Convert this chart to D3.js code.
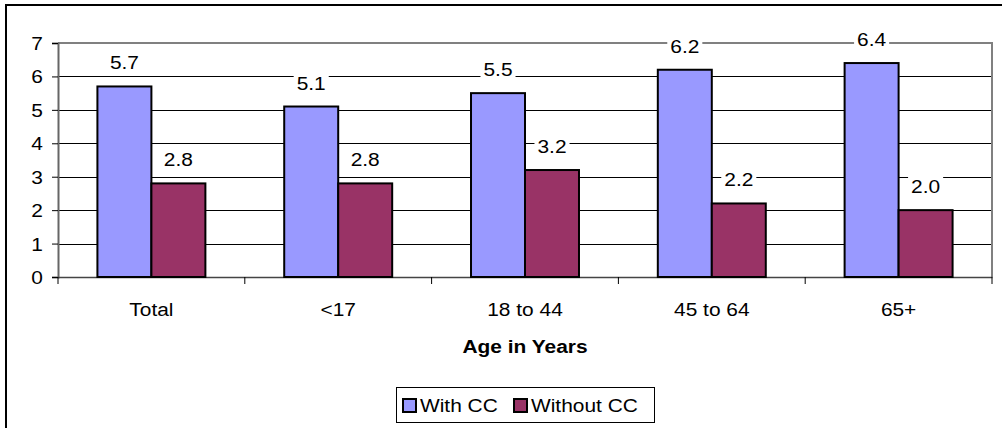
<!DOCTYPE html>
<html>
<head>
<meta charset="utf-8">
<script src="https://cdn.jsdelivr.net/npm/d3@7"></script>
<style>
    body { margin: 0; background: #fff; }
</style>
</head>
<body>
<div id="chart"></div>
<script>
// data
let categories = ["Total", "<17", "18 to 44", "45 to 64", "65+"];
let seriesNames = ["With CC", "Without CC"];
let withCC = [5.7, 5.1, 5.5, 6.2, 6.4];
let withoutCC = [2.8, 2.8, 3.2, 2.2, 2.0];
let yTicks = [0, 1, 2, 3, 4, 5, 6, 7];
let xTitle = "Age in Years";

let colors = ["#9999ff", "#993366"];

let svgWidth = 1002;
let svgHeight = 428;
let plot = { left: 58, right: 992, top: 43, bottom: 277 };
let fontSize = 19;
let stretch = 1.1; // text in the picture is a little wider than it is tall

let svg = d3.select("#chart")
    .append("svg")
    .attr("width", svgWidth)
    .attr("height", svgHeight);

// outer frame (runs off the right and bottom)
svg.append("rect")
    .attr("x", 6)
    .attr("y", 5)
    .attr("width", 1010)
    .attr("height", 440)
    .attr("fill", "none")
    .attr("stroke", "#000")
    .attr("stroke-width", 2);

let xScale = d3.scaleBand()
    .domain(categories)
    .range([plot.left, plot.right]);

let xInner = d3.scaleBand()
    .domain(seriesNames)
    .range([0, xScale.bandwidth()])
    .paddingOuter(0.73);

let yScale = d3.scaleLinear()
    .domain([0, 7])
    .range([plot.bottom, plot.top]);

function addText(g, str, x, y, anchor, weight) {
    return g.append("text")
        .attr("transform", "translate(" + x + "," + y + ") scale(" + stretch + ",1)")
        .attr("text-anchor", anchor)
        .attr("font-family", "'Liberation Sans', Arial, sans-serif")
        .attr("font-size", fontSize + "px")
        .attr("font-weight", weight || "normal")
        .attr("fill", "#000")
        .text(str);
}

// gridlines
svg.append("g")
    .selectAll("line")
    .data(yTicks.filter(d => d > 0 && d < 7))
    .enter()
    .append("line")
    .attr("x1", plot.left)
    .attr("x2", plot.right)
    .attr("y1", d => Math.round(yScale(d)) + 0.5)
    .attr("y2", d => Math.round(yScale(d)) + 0.5)
    .attr("stroke", "#000")
    .attr("stroke-width", 1);

// plot area border top/right
svg.append("path")
    .attr("d", "M" + plot.left + "," + plot.top + "H" + plot.right + "V" + plot.bottom)
    .attr("fill", "none")
    .attr("stroke", "#808080")
    .attr("stroke-width", 2);

// y axis
let yAxis = d3.axisLeft(yScale)
    .tickValues(yTicks)
    .tickSize(6)
    .tickFormat("");

let yg = svg.append("g")
    .attr("transform", "translate(" + plot.left + ",0)")
    .call(yAxis);
yg.select(".domain").attr("stroke", "#666").attr("stroke-width", 2);
yg.selectAll(".tick line").attr("stroke", "#000");

let ylab = svg.append("g");
yTicks.forEach(d => {
    addText(ylab, d, 43, yScale(d) + 7, "end");
});

// x axis
let xAxis = d3.axisBottom(xScale)
    .tickSize(0)
    .tickFormat("");

let xg = svg.append("g")
    .attr("transform", "translate(0," + plot.bottom + ")")
    .call(xAxis);
xg.select(".domain").attr("stroke", "#444").attr("stroke-width", 1.5);

// tick marks between categories
xg.selectAll(".sep")
    .data(d3.range(categories.length + 1))
    .enter()
    .append("line")
    .attr("class", "sep")
    .attr("x1", i => plot.left + i * xScale.step())
    .attr("x2", i => plot.left + i * xScale.step())
    .attr("y1", 0)
    .attr("y2", 7)
    .attr("stroke", "#000");

let xlab = svg.append("g");
categories.forEach(c => {
    addText(xlab, c, xScale(c) + xScale.bandwidth() / 2, 316, "middle");
});

addText(svg.append("g"), xTitle, (plot.left + plot.right) / 2, 353, "middle", "bold");

// bars
let series = [withCC, withoutCC];
let barLayer = svg.append("g");
let labelLayer = svg.append("g");

series.forEach((values, s) => {
    barLayer.selectAll(".bar" + s)
        .data(values)
        .enter()
        .append("rect")
        .attr("class", "bar" + s)
        .attr("x", (d, i) => xScale(categories[i]) + xInner(seriesNames[s]))
        .attr("y", d => yScale(d))
        .attr("width", xInner.bandwidth())
        .attr("height", d => yScale(0) - yScale(d))
        .attr("fill", colors[s])
        .attr("stroke", "#000")
        .attr("stroke-width", 2);

    values.forEach((d, i) => {
        let cx = xScale(categories[i]) + xInner(seriesNames[s]) + xInner.bandwidth() / 2;
        let g = labelLayer.append("g");
        let bg = g.append("rect").attr("fill", "#fff");
        let t = addText(g, d.toFixed(1), cx, yScale(d) - 17, "middle");
        let w = t.node().getBBox().width * stretch;
        bg.attr("x", cx - w / 2 - 3)
            .attr("y", yScale(d) - 34)
            .attr("width", w + 6)
            .attr("height", 22);
    });
});

// legend
let legend = svg.append("g");
legend.append("rect")
    .attr("x", 396.5)
    .attr("y", 387.5)
    .attr("width", 258)
    .attr("height", 35)
    .attr("fill", "#fff")
    .attr("stroke", "#000")
    .attr("stroke-width", 1);

let legendX = [403, 514];
seriesNames.forEach((name, s) => {
    legend.append("rect")
        .attr("x", legendX[s])
        .attr("y", 399)
        .attr("width", 13)
        .attr("height", 13)
        .attr("fill", colors[s])
        .attr("stroke", "#000")
        .attr("stroke-width", 2);
    addText(legend, name, legendX[s] + 17, 412, "start");
});
</script>
</body>
</html>
